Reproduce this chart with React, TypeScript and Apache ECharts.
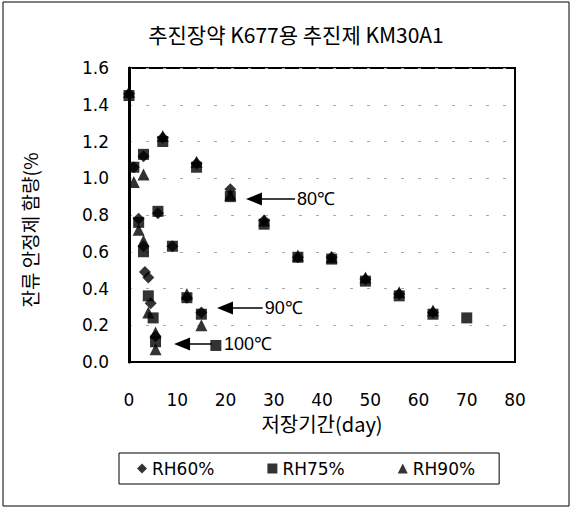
import React, { useEffect, useRef } from "react";
import * as echarts from "echarts";

const titleText = "추진장약 K677용 추진제 KM30A1";
const xAxisName = "저장기간(day)";
const yAxisName = "잔류 안정제 함량(%";
const seriesNames = ["RH60%", "RH75%", "RH90%"];

// [day, residual stabilizer %]
const rh60: number[][] = [
  [0, 1.46], [7, 1.22], [14, 1.08], [21, 0.94], [28, 0.77], [35, 0.57], [42, 0.57], [49, 0.45], [56, 0.37], [63, 0.27],
  [3, 1.12], [6, 0.81], [9, 0.63], [12, 0.35], [15, 0.27],
  [1, 1.06], [2, 0.78], [3, 0.63], [3.3, 0.49], [4, 0.46], [4.5, 0.32], [5.5, 0.14],
];
const rh75: number[][] = [
  [0, 1.45], [7, 1.2], [14, 1.06], [21, 0.9], [28, 0.75], [35, 0.57], [42, 0.56], [49, 0.44], [56, 0.36], [63, 0.26], [70, 0.24],
  [3, 1.13], [6, 0.82], [9, 0.63], [12, 0.35], [15, 0.26],
  [1, 1.06], [2, 0.76], [3, 0.6], [4, 0.36], [5, 0.24], [5.5, 0.11], [18, 0.09],
];
const rh90: number[][] = [
  [0, 1.47], [7, 1.23], [14, 1.09], [21, 0.91], [28, 0.77], [35, 0.58], [42, 0.57], [49, 0.46], [56, 0.38], [63, 0.28],
  [3, 1.02], [12, 0.37], [15, 0.2],
  [1, 0.98], [2, 0.72], [3, 0.66], [4, 0.27], [5.5, 0.16], [5.5, 0.07],
];

// temperature annotations: label, arrow tail [day, value], arrow head [day, value]
const annotations = [
  { label: "80℃", from: [34.4, 0.887], to: [25.9, 0.887], dist: 2 },
  { label: "90℃", from: [27.7, 0.294], to: [19.9, 0.294], dist: 2 },
  { label: "100℃", from: [17.2, 0.098], to: [11.0, 0.098], dist: 12 },
];

const sansFont = "'DejaVu Sans', 'Liberation Sans', sans-serif";
const krFont = "'Noto Sans CJK KR', 'Liberation Sans', sans-serif";

export default function App() {
  const ref = useRef<HTMLDivElement>(null);
  useEffect(() => {
    if (!ref.current) return;
    const chart = echarts.init(ref.current, null, { renderer: "svg" });
    const symbols = ["diamond", "rect", "triangle"];
    const sizes = [12, 11, 12];
    const datas = [rh60, rh75, rh90];
    const series: any[] = seriesNames.map((name, i) => ({
      name,
      type: "scatter",
      data: datas[i],
      symbol: symbols[i],
      symbolSize: sizes[i],
      itemStyle: { color: "#000" },
      emphasis: { disabled: true },
    }));
    series[1].markLine = {
      silent: true,
      symbol: ["none", "triangle"],
      symbolSize: [13, 16],
      lineStyle: { color: "#000", width: 1.5, type: "solid" },
      label: {
        show: true,
        position: "start",
        color: "#000",
        fontSize: 18,
        fontFamily: "'Liberation Sans Narrow', 'Liberation Sans', sans-serif",
      },
      data: annotations.map((a) => [
        { coord: a.from, label: { formatter: a.label, distance: a.dist } },
        { coord: a.to },
      ]),
    };
    chart.setOption({
      animation: false,
      title: {
        text: titleText,
        left: 291,
        top: 18,
        textAlign: "center",
        textStyle: { fontFamily: krFont, fontSize: 21, fontWeight: "normal", color: "#000" },
      },
      legend: {
        data: seriesNames.map((n, i) => ({ name: n, icon: symbols[i] })),
        left: 119,
        top: 453,
        orient: "horizontal",
        itemWidth: 10,
        itemHeight: 10,
        itemGap: 53,
        padding: [7, 24, 7, 18],
        borderColor: "#000",
        borderWidth: 1,
        textStyle: { fontFamily: sansFont, fontSize: 17, color: "#000" },
      },
      grid: {
        left: 129,
        right: 57,
        top: 68,
        bottom: 147,
        show: true,
        borderColor: "#000",
        borderWidth: 2,
        backgroundColor: "transparent",
      },
      xAxis: {
        type: "value",
        min: 0,
        max: 80,
        interval: 10,
        name: xAxisName,
        nameLocation: "middle",
        nameGap: 51,
        nameTextStyle: { fontFamily: krFont, fontSize: 20, color: "#000" },
        axisLine: { show: true, lineStyle: { color: "#000", width: 2 } },
        axisTick: { show: false },
        axisLabel: { fontFamily: sansFont, fontSize: 17, color: "#000", margin: 29 },
        splitLine: { show: false },
      },
      yAxis: {
        type: "value",
        min: 0,
        max: 1.6,
        interval: 0.2,
        name: yAxisName,
        nameLocation: "middle",
        nameGap: 90,
        nameRotate: 90,
        nameTextStyle: { fontFamily: krFont, fontSize: 19, color: "#000", padding: [0, 30, 0, 0] },
        axisLine: { show: true, lineStyle: { color: "#000", width: 3 } },
        axisTick: { show: false },
        axisLabel: {
          fontFamily: sansFont,
          fontSize: 17,
          color: "#000",
          margin: 20,
          formatter: (v: number) => v.toFixed(1),
        },
        splitLine: { show: true, lineStyle: { color: "#aaa", width: 1, type: [3, 14] } },
      },
      graphic: [
        {
          type: "rect",
          shape: { x: 3, y: 2, width: 566, height: 504 },
          style: { fill: "none", stroke: "#000", lineWidth: 1 },
          silent: true,
        },
      ],
      series,
    });
    return () => chart.dispose();
  }, []);
  return (
    <div
      ref={ref}
      style={{ position: "fixed", left: 0, top: 0, width: 572, height: 509, background: "#fff" }}
    />
  );
}
